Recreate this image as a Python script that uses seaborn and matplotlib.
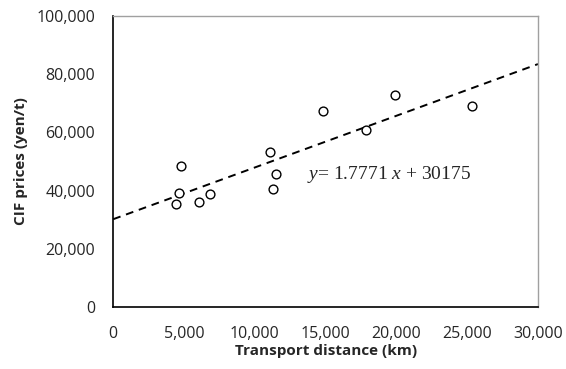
import numpy as np
import pandas as pd
import matplotlib
matplotlib.use("Agg")
import matplotlib.pyplot as plt
import seaborn as sns
from matplotlib.ticker import FuncFormatter, MultipleLocator

# data
distance_km = [4800, 4660, 6850, 6090, 4450, 11100, 11480, 11290, 14820, 17830, 19900, 25340]
cif_price = [48600, 39100, 38700, 36200, 35300, 53200, 45800, 40500, 67500, 60800, 72900, 69100]
slope = 1.7771
intercept = 30175
fit_x = [0, 30000]

df = pd.DataFrame({"distance": distance_km, "price": cif_price})
fit = pd.DataFrame({"distance": fit_x})
fit["price"] = slope * fit["distance"] + intercept

sns.set_style("white")
plt.rcParams["font.family"] = ["Open Sans", "DejaVu Sans"]
plt.rcParams["mathtext.fontset"] = "custom"
plt.rcParams["mathtext.rm"] = "Liberation Serif"
plt.rcParams["mathtext.it"] = "Liberation Serif:italic"

fig = plt.figure(figsize=(5.66, 3.69), dpi=100)
ax = fig.add_axes([0.2, 0.168, 0.7505, 0.7886])

sns.lineplot(data=fit, x="distance", y="price", ax=ax, color="black",
             linestyle=(0, (4, 3)), linewidth=1.4)
sns.scatterplot(data=df, x="distance", y="price", ax=ax, marker="o", s=40,
                facecolor="white", edgecolor="black", linewidth=1.0, zorder=3)

ax.set_xlim(0, 30000)
ax.set_ylim(0, 100000)
ax.xaxis.set_major_locator(MultipleLocator(5000))
ax.yaxis.set_major_locator(MultipleLocator(20000))
ax.yaxis.set_minor_locator(MultipleLocator(10000))
fmt = FuncFormatter(lambda v, p: f"{int(v):,}")
ax.xaxis.set_major_formatter(fmt)
ax.yaxis.set_major_formatter(fmt)
ax.tick_params(axis="both", which="both", direction="in", labelsize=11.5, color="black")
ax.tick_params(axis="x", which="major", length=4, pad=14)
ax.tick_params(axis="y", which="major", length=4, pad=13)
ax.tick_params(axis="y", which="minor", length=4, color="#888888")

for s in ["left", "bottom"]:
    ax.spines[s].set_color("black")
    ax.spines[s].set_linewidth(1.2)
for s in ["top", "right"]:
    ax.spines[s].set_color("#a0a0a0")
    ax.spines[s].set_linewidth(1.0)

ax.set_xlabel("Transport distance (km)", fontsize=11, fontweight="bold", labelpad=1)
ax.set_ylabel("CIF prices (yen/t)", fontsize=11, fontweight="bold", labelpad=6)

ax.text(13700, 45400, r"$y$= 1.7771 $x$ + 30175", fontsize=14,
        family="Liberation Serif", va="center", ha="left")
ax.grid(False)

plt.savefig("out.png", dpi=100)
